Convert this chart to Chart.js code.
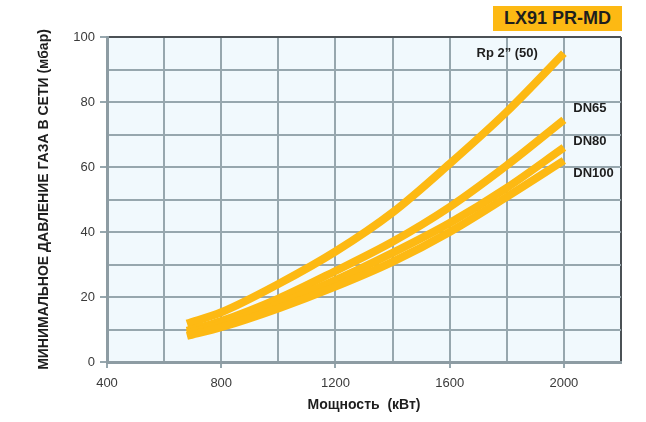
<!DOCTYPE html>
<html>
<head>
<meta charset="utf-8">
<script src="https://cdn.jsdelivr.net/npm/chart.js@4/dist/chart.umd.min.js"></script>
<style>
  body { margin: 0; background: #fff; }
  #wrap { position: relative; width: 646px; height: 422px; }
  #badge {
    position: absolute; left: 493px; top: 6px; width: 129px; height: 25px;
    background: #fdb913; color: #1e1e1e; text-align: center;
    font: bold 18px "Liberation Sans", Arial, sans-serif; line-height: 25px;
  }
</style>
</head>
<body>
<div id="wrap">
  <canvas id="chart" width="646" height="422"></canvas>
  <div id="badge">LX91 PR-MD</div>
</div>
<script>
// power, kW
const power = [680, 800, 1000, 1200, 1400, 1600, 1800, 2000];
// min gas pressure, mbar
const rp2   = [11.8, 15.3, 24, 34, 46, 61, 77, 95];
const dn65  = [9.6, 12.6, 19.5, 28, 37, 47.7, 60.5, 74.5];
const dn80  = [8.8, 11.6, 17.8, 25.2, 33.6, 42.8, 53.6, 66];
const dn100 = [8, 10.7, 16.5, 23.2, 30.8, 40, 50.8, 62];

const seriesNames = ['Rp 2\u201D (50)', 'DN65', 'DN80', 'DN100'];
// where each curve name sits (kW, mbar)
const nameAtKw   = [1694, 2033, 2033, 2033];
const nameAtMbar = [95, 78, 68, 58];

const xTicks = [400, 800, 1200, 1600, 2000];
const yTicks = [0, 20, 40, 60, 80, 100];

const curveColor = '#fdb913';
const gridColor = '#97a7ae';
const edgeColor = '#4b5155';
const font = '"Liberation Sans", Arial, sans-serif';

const toPoints = ys => power.map((x, i) => ({ x: x, y: ys[i] }));

const paneBg = {
    id: 'paneBg',
    beforeDraw(chart) {
        const { ctx, chartArea: a } = chart;
        ctx.save();
        ctx.fillStyle = '#f1f9fd';
        ctx.fillRect(a.left, a.top, a.right - a.left, a.bottom - a.top);
        ctx.restore();
    }
};

const curveNames = {
    id: 'curveNames',
    afterDatasetsDraw(chart) {
        const { ctx, scales: { x, y } } = chart;
        ctx.save();
        ctx.fillStyle = '#1e1e1e';
        ctx.font = 'bold 13px ' + font;
        ctx.textBaseline = 'middle';
        ctx.textAlign = 'left';
        seriesNames.forEach((name, i) => {
            ctx.fillText(name, x.getPixelForValue(nameAtKw[i]), y.getPixelForValue(nameAtMbar[i]));
        });
        ctx.restore();
    }
};

const lineSet = (label, ys) => ({
    label: label,
    data: toPoints(ys),
    borderColor: curveColor,
    backgroundColor: curveColor,
    borderWidth: 8,
    borderCapStyle: 'butt',
    pointRadius: 0,
    cubicInterpolationMode: 'monotone'
});

new Chart(document.getElementById('chart'), {
    type: 'line',
    data: {
        datasets: [
            lineSet(seriesNames[3], dn100),
            lineSet(seriesNames[2], dn80),
            lineSet(seriesNames[1], dn65),
            lineSet(seriesNames[0], rp2)
        ]
    },
    options: {
        responsive: false,
        devicePixelRatio: 1,
        animation: false,
        layout: { padding: { top: 37, right: 25, left: 0, bottom: 0 } },
        plugins: { legend: { display: false }, tooltip: { enabled: false } },
        scales: {
            x: {
                type: 'linear',
                min: 400,
                max: 2200,
                afterFit: s => { s.height = 60; },
                ticks: {
                    stepSize: 200,
                    padding: 8,
                    color: '#3a3a3a',
                    font: { family: font, size: 13 },
                    callback: v => xTicks.includes(v) ? v : ''
                },
                grid: {
                    lineWidth: 2,
                    tickLength: 6,
                    color: c => c.tick && c.tick.value === 2200 ? edgeColor : gridColor,
                    tickColor: c => c.tick && xTicks.includes(c.tick.value) ? gridColor : 'transparent'
                },
                border: { color: '#8d9ca3', width: 3 },
                title: {
                    display: true,
                    text: 'Мощность  (кВт)',
                    color: '#1e1e1e',
                    font: { family: font, size: 14, weight: 'bold' },
                    padding: { bottom: 8 }
                }
            },
            y: {
                min: 0,
                max: 100,
                afterFit: s => { s.width = 107; },
                ticks: {
                    stepSize: 10,
                    padding: 5,
                    color: '#3a3a3a',
                    font: { family: font, size: 13 },
                    callback: v => yTicks.includes(v) ? v : ''
                },
                grid: {
                    lineWidth: 2,
                    tickLength: 7,
                    color: c => c.tick && c.tick.value === 100 ? edgeColor : gridColor,
                    tickColor: c => c.tick && yTicks.includes(c.tick.value) ? gridColor : 'transparent'
                },
                border: { color: '#8d9ca3', width: 3 },
                title: {
                    display: true,
                    text: 'МИНИМАЛЬНОЕ ДАВЛЕНИЕ ГАЗА В СЕТИ (мбар)',
                    color: '#1e1e1e',
                    font: { family: '"Liberation Sans Narrow", ' + font, size: 14, weight: 'bold' },
                    padding: { top: 36 }
                }
            }
        }
    },
    plugins: [paneBg, curveNames]
});
</script>
</body>
</html>
